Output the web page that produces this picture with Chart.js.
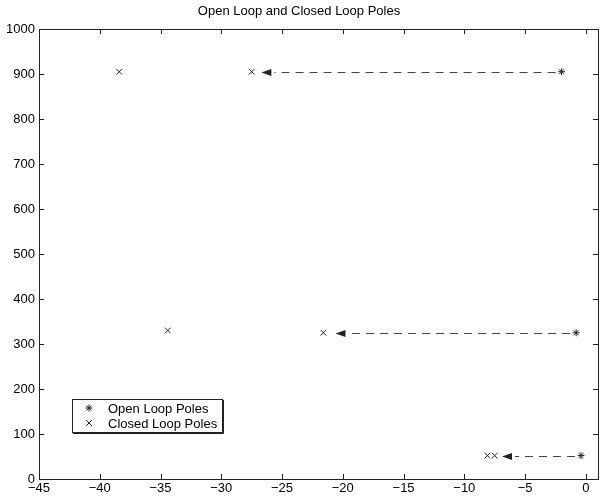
<!DOCTYPE html>
<html>
<head>
<meta charset="utf-8">
<title>Open Loop and Closed Loop Poles</title>
<script src="https://cdn.jsdelivr.net/npm/chart.js@4.4.0/dist/chart.umd.min.js"></script>
<style>
  html, body { margin: 0; padding: 0; background: #fff; }
  #wrap { width: 608px; height: 501px; }
</style>
</head>
<body>
<div id="wrap"><canvas id="myChart"></canvas></div>
<script>
'use strict'

const openX = [-2.0, -0.8, -0.4]
const openY = [905, 325, 52]
const closedX = [-38.4, -27.5, -34.4, -21.6, -8.1, -7.5]
const closedY = [905, 905, 330, 325, 52, 52]

// arrows go from each open loop pole to where the tip sits
const arrowToX = [-26.7, -20.6, -6.9]

const xTicks = [-45, -40, -35, -30, -25, -20, -15, -10, -5, 0]
const yTicks = [0, 100, 200, 300, 400, 500, 600, 700, 800, 900, 1000]

const ink = '#222'
const fontName = '"Liberation Sans", Arial, sans-serif'

Chart.defaults.font.family = fontName
Chart.defaults.font.size = 13
Chart.defaults.color = '#000'

const toPoints = (xs, ys) => xs.map((x, i) => ({ x: x, y: ys[i] }))

const minus = (v) => (v < 0 ? '\u2212' + Math.abs(v) : String(v))

// box round the plot with inward ticks on all four sides
const boxAxes = {
  id: 'boxAxes',
  afterDraw(chart) {
    const { ctx, chartArea: a, scales } = chart
    ctx.save()
    ctx.strokeStyle = ink
    ctx.lineWidth = 1
    ctx.strokeRect(a.left + 0.5, a.top + 0.5, a.right - a.left, a.bottom - a.top)
    ctx.beginPath()
    xTicks.forEach((t) => {
      const px = Math.round(scales.x.getPixelForValue(t)) + 0.5
      ctx.moveTo(px, a.bottom); ctx.lineTo(px, a.bottom - 5)
      ctx.moveTo(px, a.top); ctx.lineTo(px, a.top + 5)
    })
    yTicks.forEach((t) => {
      const py = Math.round(scales.y.getPixelForValue(t)) + 0.5
      ctx.moveTo(a.left, py); ctx.lineTo(a.left + 5, py)
      ctx.moveTo(a.right, py); ctx.lineTo(a.right - 5, py)
    })
    ctx.stroke()
    ctx.restore()
  }
}

// dashed arrows from open loop to closed loop poles
const poleArrows = {
  id: 'poleArrows',
  afterDatasetsDraw(chart) {
    const { ctx, scales } = chart
    ctx.save()
    openX.forEach((x0, i) => {
      const y = Math.round(scales.y.getPixelForValue(openY[i])) + 0.5
      const xs = scales.x.getPixelForValue(x0)
      const xt = scales.x.getPixelForValue(arrowToX[i])
      const head = 10
      ctx.strokeStyle = '#444'
      ctx.lineWidth = 1
      ctx.setLineDash([8, 6])
      ctx.beginPath()
      ctx.moveTo(xs - 6, y)
      ctx.lineTo(xt + head + 3, y)
      ctx.stroke()
      ctx.setLineDash([])
      ctx.fillStyle = ink
      ctx.beginPath()
      ctx.moveTo(xt, y)
      ctx.lineTo(xt + head, y - 3.5)
      ctx.lineTo(xt + head, y + 3.5)
      ctx.closePath()
      ctx.fill()
    })
    ctx.restore()
  }
}

// legend box sitting inside the plot, lower left
const innerLegend = {
  id: 'innerLegend',
  afterDraw(chart) {
    const { ctx } = chart
    const left = 72, top = 399, w = 150, h = 33
    ctx.save()
    ctx.fillStyle = '#fff'
    ctx.fillRect(left, top, w, h)
    ctx.strokeStyle = ink
    ctx.lineWidth = 1
    ctx.strokeRect(left + 0.5, top + 0.5, w, h)
    ctx.beginPath()
    ctx.moveTo(left + 1, top + h + 1.5); ctx.lineTo(left + w + 1.5, top + h + 1.5)
    ctx.lineTo(left + w + 1.5, top + 1)
    ctx.stroke()
    chart.data.datasets.forEach((ds, i) => {
      const cy = top + 9 + i * 15
      const cx = left + 17
      ctx.beginPath()
      if (ds.pointStyle === 'star') {
        const r = 3.5
        ctx.moveTo(cx - r, cy); ctx.lineTo(cx + r, cy)
        ctx.moveTo(cx, cy - r); ctx.lineTo(cx, cy + r)
        const d = r * 0.707
        ctx.moveTo(cx - d, cy - d); ctx.lineTo(cx + d, cy + d)
        ctx.moveTo(cx - d, cy + d); ctx.lineTo(cx + d, cy - d)
      } else {
        const d = 3
        ctx.moveTo(cx - d, cy - d); ctx.lineTo(cx + d, cy + d)
        ctx.moveTo(cx - d, cy + d); ctx.lineTo(cx + d, cy - d)
      }
      ctx.stroke()
      ctx.fillStyle = '#000'
      ctx.textBaseline = 'middle'
      ctx.textAlign = 'left'
      ctx.font = '13px ' + fontName
      ctx.fillText(ds.label, left + 36, cy + 1)
    })
    ctx.restore()
  }
}

const ctx = document.getElementById('myChart')

const myChart = new Chart(ctx, {
  type: 'scatter',
  data: {
    datasets: [
      {
        label: 'Open Loop Poles',
        data: toPoints(openX, openY),
        pointStyle: 'star',
        pointRadius: 3.5,
        borderColor: ink,
        backgroundColor: ink,
        borderWidth: 1
      },
      {
        label: 'Closed Loop Poles',
        data: toPoints(closedX, closedY),
        pointStyle: 'crossRot',
        pointRadius: 4,
        borderColor: ink,
        backgroundColor: ink,
        borderWidth: 1
      }
    ]
  },
  options: {
    responsive: true,
    maintainAspectRatio: false,
    animation: false,
    layout: { padding: { top: 0, right: 10, bottom: 0, left: 0 } },
    plugins: {
      legend: { display: false },
      tooltip: { enabled: false },
      title: {
        display: true,
        text: 'Open Loop and Closed Loop Poles',
        font: { size: 13, weight: 'normal' },
        color: '#000',
        padding: { top: 4, bottom: 9.4 }
      }
    },
    scales: {
      x: {
        type: 'linear',
        min: -45,
        max: 1,
        grid: { display: false, drawTicks: false },
        border: { display: false },
        ticks: {
          stepSize: 5,
          includeBounds: false,
          padding: 2,
          maxRotation: 0,
          autoSkip: false,
          callback: (v) => minus(v)
        },
        afterFit: (scale) => { scale.height = 22 }
      },
      y: {
        type: 'linear',
        min: 0,
        max: 1000,
        grid: { display: false, drawTicks: false },
        border: { display: false },
        ticks: { stepSize: 100, padding: 4, autoSkip: false, callback: (v) => String(v) },
        afterFit: (scale) => { scale.width = 39 }
      }
    }
  },
  plugins: [boxAxes, poleArrows, innerLegend]
})
</script>
</body>
</html>
